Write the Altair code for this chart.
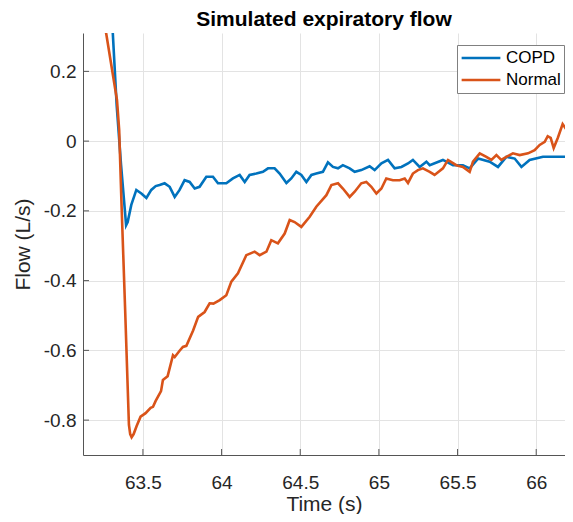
import altair as alt
import pandas as pd

# ---- data ----
copd_t = [63.304, 63.333, 63.361, 63.393, 63.403, 63.426, 63.458, 63.490, 63.522, 63.553,
          63.581, 63.606, 63.638, 63.670, 63.702, 63.733, 63.765, 63.797, 63.829, 63.860,
          63.903, 63.945, 63.977, 64.030, 64.072, 64.115, 64.147, 64.178, 64.221, 64.263,
          64.295, 64.337, 64.369, 64.412, 64.443, 64.475, 64.507, 64.539, 64.571, 64.602,
          64.644, 64.676, 64.708, 64.740, 64.771, 64.814, 64.846, 64.888, 64.941, 64.973,
          65.016, 65.058, 65.100, 65.143, 65.185, 65.216, 65.259, 65.302, 65.323, 65.407,
          65.471, 65.534, 65.577, 65.630, 65.704, 65.757, 65.810, 65.863, 65.906, 65.958,
          66.043, 66.106, 66.170, 66.223, 66.276]
copd_v = [0.347, 0.103, -0.069, -0.241, -0.232, -0.183, -0.140, -0.150, -0.163, -0.140,
          -0.129, -0.126, -0.121, -0.131, -0.160, -0.140, -0.112, -0.117, -0.136, -0.131,
          -0.102, -0.102, -0.121, -0.121, -0.107, -0.097, -0.117, -0.097, -0.093, -0.088,
          -0.078, -0.078, -0.093, -0.120, -0.107, -0.088, -0.097, -0.117, -0.097, -0.093,
          -0.088, -0.061, -0.074, -0.078, -0.069, -0.078, -0.088, -0.083, -0.072, -0.083,
          -0.064, -0.054, -0.078, -0.074, -0.064, -0.054, -0.074, -0.059, -0.069, -0.054,
          -0.069, -0.069, -0.078, -0.050, -0.059, -0.074, -0.045, -0.050, -0.074, -0.054,
          -0.045, -0.045, -0.045, -0.045, -0.040]

normal_t = [63.250, 63.267, 63.335, 63.349, 63.363, 63.387, 63.411, 63.419, 63.428, 63.441,
            63.460, 63.485, 63.517, 63.549, 63.564, 63.581, 63.615, 63.627, 63.657, 63.691,
            63.702, 63.733, 63.754, 63.776, 63.819, 63.851, 63.892, 63.924, 63.948, 63.988,
            64.030, 64.062, 64.104, 64.157, 64.210, 64.242, 64.285, 64.316, 64.358, 64.401,
            64.433, 64.464, 64.507, 64.560, 64.602, 64.666, 64.698, 64.740, 64.771, 64.814,
            64.846, 64.888, 64.920, 64.952, 64.984, 65.016, 65.047, 65.089, 65.132, 65.164,
            65.185, 65.216, 65.248, 65.280, 65.323, 65.354, 65.407, 65.439, 65.492, 65.534,
            65.577, 65.598, 65.641, 65.683, 65.715, 65.747, 65.778, 65.810, 65.852, 65.895,
            65.948, 65.990, 66.022, 66.054, 66.073, 66.092, 66.111, 66.137, 66.168, 66.194,
            66.225, 66.276]
normal_v = [0.347, 0.307, 0.118, 0.032, -0.169, -0.485, -0.814, -0.840, -0.849, -0.840,
            -0.817, -0.790, -0.780, -0.765, -0.762, -0.745, -0.717, -0.685, -0.674, -0.614,
            -0.619, -0.601, -0.590, -0.587, -0.543, -0.504, -0.490, -0.465, -0.466, -0.456,
            -0.442, -0.403, -0.379, -0.327, -0.317, -0.327, -0.317, -0.284, -0.293, -0.265,
            -0.226, -0.232, -0.246, -0.217, -0.188, -0.155, -0.126, -0.121, -0.136, -0.160,
            -0.145, -0.121, -0.117, -0.131, -0.150, -0.136, -0.107, -0.112, -0.112, -0.107,
            -0.120, -0.093, -0.083, -0.078, -0.088, -0.097, -0.078, -0.054, -0.069, -0.074,
            -0.088, -0.059, -0.035, -0.045, -0.054, -0.040, -0.054, -0.045, -0.035, -0.040,
            -0.035, -0.026, -0.011, -0.002, 0.014, 0.009, -0.020, 0.009, 0.049, 0.032,
            0.026, 0.017]

series_names = ["COPD", "Normal"]
x_ticks = [63.5, 64, 64.5, 65, 65.5, 66]
y_ticks = [-0.8, -0.6, -0.4, -0.2, 0, 0.2]
x_domain = [63.119, 66.183]
y_domain = [-0.9, 0.31]

df = pd.concat([
    pd.DataFrame({"t": copd_t, "v": copd_v, "s": series_names[0]}),
    pd.DataFrame({"t": normal_t, "v": normal_v, "s": series_names[1]}),
])

W, H = 482, 422
FONT = "Liberation Sans"
AX = "#262626"

xs = alt.Scale(domain=x_domain, nice=False, zero=False)
ys = alt.Scale(domain=y_domain, nice=False, zero=False)
xaxis = alt.Axis(values=x_ticks, labelExpr="'' + datum.value", grid=True)
yaxis = alt.Axis(values=y_ticks, labelExpr="'' + datum.value", grid=True)

lines = alt.Chart(df).mark_line(strokeWidth=2.6, clip=True).encode(
    x=alt.X("t:Q", scale=xs, title="Time (s)", axis=xaxis),
    y=alt.Y("v:Q", scale=ys, title="Flow (L/s)", axis=yaxis),
    color=alt.Color("s:N", scale=alt.Scale(domain=series_names, range=["#0072BD", "#D95319"]),
                    legend=alt.Legend(orient="none", legendX=374, legendY=12, title=None,
                                      symbolType="stroke", symbolSize=1500, symbolStrokeWidth=2.6,
                                      labelFontSize=17, labelFont=FONT, labelColor="#000",
                                      strokeColor="#808080", fillColor="#ffffff", padding=3,
                                      clipHeight=20, rowPadding=2, labelOffset=4)),
    order=alt.Order("t:Q"),
)

xt = alt.Chart(pd.DataFrame({"t": x_ticks})).mark_rule(color="#555555", strokeWidth=1).encode(
    x=alt.X("t:Q", scale=xs, title="Time (s)", axis=xaxis), y=alt.value(H), y2=alt.value(H - 6))
yt = alt.Chart(pd.DataFrame({"v": y_ticks})).mark_rule(color="#555555", strokeWidth=1).encode(
    y=alt.Y("v:Q", scale=ys, title="Flow (L/s)", axis=yaxis), x=alt.value(0), x2=alt.value(6))

chart = alt.layer(lines, xt, yt).properties(
    width=W, height=H,
    title=alt.TitleParams("Simulated expiratory flow", font=FONT, fontSize=21, fontWeight="bold",
                          color="#000", offset=3, anchor="middle"),
    autosize=alt.AutoSizeParams(type="none"),
    padding={"left": 75, "top": 25, "right": 0, "bottom": 59},
).configure_view(stroke=None).configure_axis(
    labelFont=FONT, labelFontSize=19, labelColor=AX, titleFont=FONT, titleFontSize=21,
    titleFontWeight="normal", titleColor=AX, domainColor="#555555", domainWidth=1,
    ticks=False, gridColor="#e3e3e3", gridWidth=1,
).configure_axisX(labelPadding=18, titlePadding=1).configure_axisY(labelPadding=7, titlePadding=10)

chart.save("out.html", embed_options={"renderer": "svg", "actions": False})
